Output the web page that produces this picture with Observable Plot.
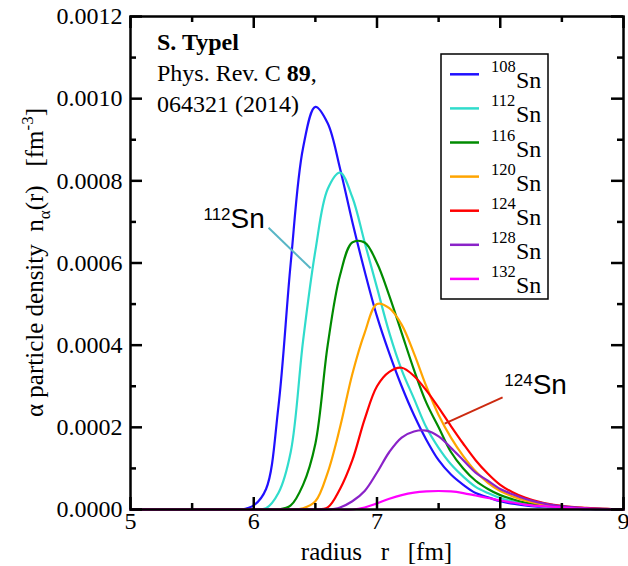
<!DOCTYPE html>
<html><head><meta charset="utf-8">
<script src="https://cdn.jsdelivr.net/npm/d3@7"></script>
<script src="https://cdn.jsdelivr.net/npm/@observablehq/plot@0.6"></script>
<style>html,body{margin:0;padding:0;background:#fff;overflow:hidden}</style>
</head><body><div id="chart"></div>
<script>
// ---- data ----
const radius = [5.0,5.8,5.9,6.0,6.1,6.2,6.3,6.4,6.5,6.6,6.7,6.8,6.9,7.0,7.1,7.2,7.3,7.4,7.5,7.6,7.7,7.8,7.9,8.0,8.1,8.2,8.3,8.4,8.5,8.6,8.7,8.8,8.9,9.0];
const n108 = [0,0,0,0.00001,0.00005,0.00025,0.0006,0.00088,0.00098,0.00094,0.00083,0.0007,0.00058,0.00047,0.00038,0.0003,0.00023,0.00017,0.00012,0.000085,0.00006,0.00004,0.00003,0.00002,0.000014,0.00001,0.000007,0.000005,0.000003,0.000002,0.000001,0.000001,0,0];
const n112 = [0,0,0,0,0.000003,0.00004,0.00014,0.00041,0.00063,0.00078,0.00082,0.00076,0.00065,0.00054,0.00043,0.00034,0.00027,0.0002,0.00015,0.00011,0.00008,0.000055,0.00004,0.000028,0.00002,0.000013,0.000009,0.000006,0.000004,0.000003,0.000002,0.000001,0.000001,0];
const n116 = [0,0,0,0,0,0,0.00001,0.00006,0.00016,0.0004,0.00057,0.00065,0.00065,0.0006,0.00052,0.00043,0.00034,0.00026,0.0002,0.00014,0.0001,0.00007,0.00005,0.000035,0.000025,0.000017,0.000012,0.000008,0.000005,0.000003,0.000002,0.000001,0.000001,0];
const n120 = [0,0,0,0,0,0,0,0.000003,0.00002,0.00009,0.0002,0.00033,0.00043,0.0005,0.00049,0.00045,0.00038,0.0003,0.00023,0.000175,0.00013,0.000093,0.000065,0.000045,0.000032,0.000022,0.000015,0.00001,0.000007,0.000004,0.000003,0.000002,0.000001,0];
const n124 = [0,0,0,0,0,0,0,0,0,0.000005,0.00005,0.00012,0.00022,0.0003,0.000335,0.000345,0.000325,0.00029,0.000248,0.000203,0.00016,0.00012,0.000087,0.00006,0.000042,0.000029,0.00002,0.000013,0.000009,0.000006,0.000004,0.000002,0.000001,0];
const n128 = [0,0,0,0,0,0,0,0,0,0,0.000005,0.00002,0.000045,0.00009,0.00014,0.000175,0.00019,0.000192,0.000178,0.00015,0.00012,0.00009,0.00007,0.00005,0.000037,0.000026,0.000018,0.000012,0.000008,0.000005,0.000003,0.000002,0.000001,0];
const n132 = [0,0,0,0,0,0,0,0,0,0,0,0,0.000005,0.000015,0.000026,0.000035,0.000041,0.000044,0.000045,0.000044,0.00004,0.000034,0.000028,0.000022,0.000017,0.000012,0.000009,0.000007,0.000005,0.000003,0.000002,0.000001,0.000001,0];

const isotopes = ["108","112","116","120","124","128","132"];
const series = [n108, n112, n116, n120, n124, n128, n132];
const colors = ["#2010ff","#30dccc","#008b00","#ffa500","#ff0000","#8a22c8","#ff00ff"];

const xMajor = [5,6,7,8,9];
const xMinor = [5.5,6.5,7.5,8.5];
const yMajor = [0,0.0002,0.0004,0.0006,0.0008,0.0010,0.0012];
const yMinor = [0.0001,0.0003,0.0005,0.0007,0.0009,0.0011];

// annotations (data coordinates)
const noteIso = ["112","124"];
const noteR = [5.812, 8.263];
const noteN = [0.000686, 0.000282];
const leadR1 = [6.120, 8.019], leadN1 = [0.000686, 0.000273];
const leadR2 = [6.461, 7.549], leadN2 = [0.000587, 0.000209];
const noteColors = ["#58b6c6", "#cc2a10"];

const citation = ["S. Typel", "Phys. Rev. C ", "89", ",", "064321 (2014)"];

// ---- layout ----
const W = 628, H = 566, ML = 130, MR = 5, MT = 16, MB = 57;
const IH = H - MT - MB, IW = W - ML - MR;
const MAJ = 12, MIN = 6, TW = 2.5;
const serif = "'Liberation Serif','Times New Roman',serif";
const sans = "'Liberation Sans',Arial,sans-serif";

const rows = isotopes.flatMap((iso, i) => radius.map((r, j) => ({iso, r, n: series[i][j]})));
const notes = noteIso.map((iso, i) => ({iso, r: noteR[i], n: noteN[i], r1: leadR1[i], n1: leadN1[i], r2: leadR2[i], n2: leadN2[i]}));

const tickStyle = {stroke: "black", strokeWidth: TW};
const plot = Plot.plot({
  width: W, height: H, marginTop: MT, marginRight: MR, marginBottom: MB, marginLeft: ML,
  style: {fontFamily: serif, fontSize: "24px", background: "white", color: "black", overflow: "visible"},
  x: {domain: [5, 9]},
  y: {domain: [0, 0.0012]},
  color: {domain: isotopes, range: colors},
  marks: [
    Plot.line(rows, {x: "r", y: "n", z: "iso", stroke: "iso", strokeWidth: 2.2, curve: "catmull-rom"}),
    Plot.tickX(xMajor, {x: d => d, insetTop: IH - MAJ, ...tickStyle}),
    Plot.tickX(xMajor, {x: d => d, insetBottom: IH - MAJ, ...tickStyle}),
    Plot.tickX(xMinor, {x: d => d, insetTop: IH - MIN, ...tickStyle}),
    Plot.tickX(xMinor, {x: d => d, insetBottom: IH - MIN, ...tickStyle}),
    Plot.tickY(yMajor, {y: d => d, insetRight: IW - MAJ, ...tickStyle}),
    Plot.tickY(yMajor, {y: d => d, insetLeft: IW - MAJ, ...tickStyle}),
    Plot.tickY(yMinor, {y: d => d, insetRight: IW - MIN, ...tickStyle}),
    Plot.tickY(yMinor, {y: d => d, insetLeft: IW - MIN, ...tickStyle}),
    Plot.frame({stroke: "black", strokeWidth: 2.5}),
    Plot.axisX(xMajor, {tickSize: 0, tickPadding: 2, tickFormat: d => String(d), fontSize: 24, label: null}),
    Plot.axisY(yMajor, {tickSize: 0, tickPadding: 8, tickFormat: d => d.toFixed(4), fontSize: 24, label: null}),
    ...notes.map((d, i) => Plot.link([d], {x1: "r1", y1: "n1", x2: "r2", y2: "n2", stroke: noteColors[i], strokeWidth: 2})),
    Plot.text(notes, {x: "r", y: "n", text: "iso", textAnchor: "end", lineAnchor: "bottom", dy: -8, fontSize: 17, fontFamily: sans, fill: "black"}),
    Plot.text(notes, {x: "r", y: "n", text: () => "Sn", textAnchor: "start", lineAnchor: "bottom", fontSize: 28, fontFamily: sans, fill: "black"})
  ]
});
document.getElementById("chart").appendChild(plot);

const svg = d3.select(plot);
function txt(g, x, y, size, family) {
  return g.append("text").attr("x", x).attr("y", y).attr("font-size", size)
    .attr("font-family", family || serif).attr("fill", "black")
    .attr("text-anchor", "start").style("white-space", "pre");
}

// citation block
const c1 = txt(svg, 157, 50, 24); c1.attr("font-weight", "bold").text(citation[0]);
const c2 = txt(svg, 157, 81, 24);
c2.append("tspan").text(citation[1]);
c2.append("tspan").attr("font-weight", "bold").text(citation[2]);
c2.append("tspan").text(citation[3]);
txt(svg, 157, 112, 24).text(citation[4]);

// legend
const lg = svg.append("g");
lg.append("rect").attr("x", 441).attr("y", 54).attr("width", 107).attr("height", 245)
  .attr("fill", "white").attr("stroke", "black").attr("stroke-width", 1.5);
isotopes.forEach((iso, i) => {
  const yy = 74.3 + i * 34.1;
  lg.append("line").attr("x1", 450).attr("x2", 479).attr("y1", yy).attr("y2", yy)
    .attr("stroke", colors[i]).attr("stroke-width", 2.5);
  txt(lg, 491, yy - 2, 16.5).text(iso);
  txt(lg, 516, yy + 14, 24).text("Sn");
});

// x label
txt(svg, ML + IW / 2, 560, 25).attr("text-anchor", "middle").text("radius   r   [fm]");

// y label
const yl = svg.append("text").attr("transform", `translate(43,${MT + IH / 2}) rotate(-90)`)
  .attr("text-anchor", "middle").attr("font-size", 25).attr("font-family", serif)
  .attr("fill", "black").style("white-space", "pre");
yl.append("tspan").text("α particle density  n");
yl.append("tspan").attr("font-size", 17).attr("dy", 7).text("α");
yl.append("tspan").attr("dy", -7).text("(r)   [fm");
yl.append("tspan").attr("font-size", 17).attr("dy", -10).text("-3");
yl.append("tspan").attr("dy", 10).text("]");
</script>
</body></html>
